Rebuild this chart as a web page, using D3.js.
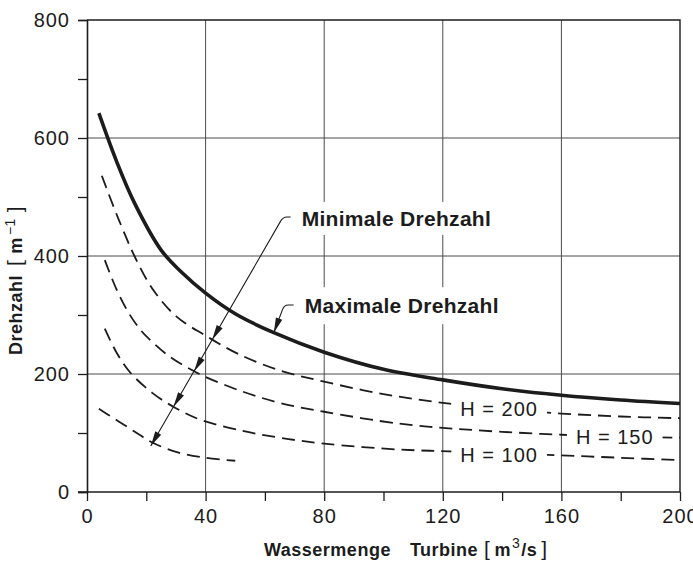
<!DOCTYPE html>
<html>
<head>
<meta charset="utf-8">
<script src="https://cdn.jsdelivr.net/npm/d3@7"></script>
<style>
  html, body { margin: 0; padding: 0; background: #fff; }
  svg { display: block; font-family: "Liberation Sans", Arial, Helvetica, sans-serif; }
</style>
</head>
<body>
<svg id="chart" width="693" height="561"></svg>
<script>
const width = 693,
  height = 561,
  margin = {top: 20, right: 12, bottom: 69, left: 87};

// Wassermenge Q [m3/s] / Drehzahl n [1/min]
const qMax = [4, 10, 16, 25, 32, 40, 50, 63, 80, 100, 120, 140, 160, 180, 200];
const nMax = [642, 560, 490, 410, 372, 337, 302, 270, 237, 208, 190, 175, 164, 156, 150];

const qH200 = [5, 9, 12, 16, 22, 30, 40, 51, 65, 80, 100, 120, 140, 160, 180, 200];
const nH200 = [536, 483, 446, 400, 345, 298, 265, 234, 206, 187, 166, 151, 141, 133, 128, 125];

const qH150 = [6, 10, 14, 18, 21, 28, 36, 40, 52, 65, 80, 105, 122, 140, 160, 180, 200];
const nH150 = [393, 343, 304, 275, 259, 229, 205, 195, 171, 151, 136, 116, 108, 102, 97, 94, 92];

const qH100 = [6, 10, 14.5, 22, 30, 38, 52, 65, 80, 105, 122, 140, 160, 180, 200];
const nH100 = [277, 236, 203, 168, 142, 123, 104, 92, 82, 72, 69, 66, 62, 58, 54];

const qH50 = [4, 9, 14, 18, 22, 30, 40, 50];
const nH50 = [141, 125, 109, 96, 84, 68, 58, 53];

const xTicks = [0, 20, 40, 60, 80, 100, 120, 140, 160, 180, 200];
const xLabels = [0, 40, 80, 120, 160, 200];
const yTicks = [0, 100, 200, 300, 400, 500, 600, 700, 800];
const yLabels = [0, 200, 400, 600, 800];

const hLabels = [
  {text: 'H = 200', q: 139, n: 141},
  {text: 'H = 150', q: 178, n: 93},
  {text: 'H = 100', q: 139, n: 62}
];

const zip = (q, n) => q.map((d, i) => [d, n[i]]);
const dashed = [zip(qH200, nH200), zip(qH150, nH150), zip(qH100, nH100), zip(qH50, nH50)];

const svg = d3.select('#chart');
const x = d3.scaleLinear().domain([0, 200]).range([margin.left, width - margin.right - 1]);
const y = d3.scaleLinear().domain([0, 800]).range([height - margin.bottom, margin.top]);

const ink = '#1c1c1c';

// grid
const grid = svg.append('g').attr('stroke', '#4a4a4a').attr('stroke-width', 1);
grid.selectAll('line.v').data([40, 80, 120, 160]).enter().append('line')
  .attr('x1', d => x(d)).attr('x2', d => x(d))
  .attr('y1', y(0)).attr('y2', y(800));
grid.selectAll('line.h').data([200, 400, 600]).enter().append('line')
  .attr('x1', x(0)).attr('x2', x(200))
  .attr('y1', d => y(d)).attr('y2', d => y(d));

// frame top / right
svg.append('path')
  .attr('d', `M${x(0)},${y(800)}H${x(200)}V${y(0)}`)
  .attr('fill', 'none').attr('stroke', ink).attr('stroke-width', 1.4);

// axes
const xAxis = svg.append('g')
  .attr('transform', `translate(0,${y(0)})`)
  .call(d3.axisBottom(x).tickValues(xTicks).tickSize(9).tickPadding(8)
    .tickFormat(d => xLabels.includes(d) ? d : ''));
const yAxis = svg.append('g')
  .attr('transform', `translate(${x(0)},0)`)
  .call(d3.axisLeft(y).tickValues(yTicks).tickSize(9).tickPadding(8)
    .tickFormat(d => yLabels.includes(d) ? d : ''));

[xAxis, yAxis].forEach(a => {
  a.select('.domain').attr('stroke', ink).attr('stroke-width', 1.6);
  a.selectAll('.tick line').attr('stroke', ink).attr('stroke-width', 1.3);
  a.selectAll('.tick text').attr('fill', ink)
    .style('font-size', '20px').style('letter-spacing', '1px')
    .style('font-family', '"Liberation Sans", Arial, sans-serif');
});
xAxis.select('.domain').attr('d', `M${x(0) - 9},0H${x(200)}`);

const line = d3.line()
  .x(d => x(d[0]))
  .y(d => y(d[1]))
  .curve(d3.curveCatmullRom.alpha(0.5));

const dashPaths = svg.append('g').selectAll('path')
  .data(dashed).enter().append('path')
  .attr('d', line)
  .attr('fill', 'none')
  .attr('stroke', ink)
  .attr('stroke-width', 1.8)
  .attr('stroke-dasharray', '13 7');

const maxPath = svg.append('path')
  .datum(zip(qMax, nMax))
  .attr('d', line)
  .attr('fill', 'none')
  .attr('stroke', ink)
  .attr('stroke-width', 3.6);

// crossing of a straight line (p0 -> p1) with a rendered curve
function crossing(node, p0, p1) {
  const side = p => (p1[0] - p0[0]) * (p.y - p0[1]) - (p1[1] - p0[1]) * (p.x - p0[0]);
  const len = node.getTotalLength();
  let sPrev = side(node.getPointAtLength(0));
  for (let l = 0.5; l <= len; l += 0.5) {
    const p = node.getPointAtLength(l), s = side(p);
    if (sPrev * s <= 0) return [p.x, p.y];
    sPrev = s;
  }
  return p1;
}

function arrowHead(g, tip, from) {
  const dx = tip[0] - from[0], dy = tip[1] - from[1];
  const k = Math.hypot(dx, dy), ux = dx / k, uy = dy / k;
  const len = 15, w = 3.4;
  const bx = tip[0] - ux * len, by = tip[1] - uy * len;
  g.append('path')
    .attr('d', `M${tip[0]},${tip[1]}L${bx - uy * w},${by + ux * w}L${bx + uy * w},${by - ux * w}Z`)
    .attr('fill', ink);
}

function leader(g, hook, knee, tip) {
  // bend the line into a short horizontal stub at the label side
  const t = (hook[1] - tip[1]) / (knee[1] - tip[1]);
  const corner = [tip[0] + (knee[0] - tip[0]) * t, hook[1]];
  const k = Math.hypot(tip[0] - corner[0], tip[1] - corner[1]);
  const after = [corner[0] + (tip[0] - corner[0]) / k * 5, corner[1] + (tip[1] - corner[1]) / k * 5];
  g.append('path')
    .attr('d', `M${hook[0]},${hook[1]}L${corner[0] + 4},${hook[1]}Q${corner[0]},${corner[1]} ${after[0]},${after[1]}L${tip[0]},${tip[1]}`)
    .attr('fill', 'none').attr('stroke', ink).attr('stroke-width', 1.1);
}

// labels with white mask under them
function maskedText(txt, px, py, opts) {
  const g = svg.append('g');
  const r = g.append('rect').attr('fill', '#fff');
  const t = g.append('text')
    .attr('x', px).attr('y', py)
    .attr('fill', ink)
    .attr('text-anchor', opts.anchor || 'start')
    .style('font-size', opts.size + 'px')
    .style('font-weight', opts.weight || 'normal')
    .style('letter-spacing', (opts.spacing || 0) + 'px')
    .text(txt);
  const b = t.node().getBBox();
  r.attr('x', b.x - opts.padX).attr('y', b.y - opts.padY)
    .attr('width', b.width + 2 * opts.padX).attr('height', b.height + 2 * opts.padY);
}

hLabels.forEach(d => {
  maskedText(d.text, x(d.q), y(d.n) + 7, {anchor: 'middle', size: 20, spacing: 1, padX: 9, padY: 2});
});

maskedText('Minimale Drehzahl', x(72.4), y(451), {size: 21, weight: 'bold', spacing: 0.3, padX: 6, padY: 5});
maskedText('Maximale Drehzahl', x(73.4), y(303), {size: 21, weight: 'bold', spacing: 0.3, padX: 6, padY: 7});

const ann = svg.append('g');

// Minimale Drehzahl: one line through all part-load curves
const minHook = [x(68.7), y(466)], minKnee = [x(65.3), y(459)], minTip = [x(21.5), y(78)];
leader(ann, minHook, minKnee, minTip);
dashPaths.each(function(d, i) {
  const tip = i === dashed.length - 1 ? minTip : crossing(this, minKnee, minTip);
  arrowHead(ann, tip, minKnee);
});

// Maximale Drehzahl
const maxHook = [x(69.7), y(317)], maxKnee = [x(66.0), y(310)];
const maxTip = crossing(maxPath.node(), maxKnee, [x(63.3), y(274)]);
leader(ann, maxHook, maxKnee, maxTip);
arrowHead(ann, maxTip, maxKnee);

// axis titles
const xt = svg.append('text')
  .attr('x', 264).attr('y', 556)
  .attr('fill', ink)
  .style('font-size', '18px').style('font-weight', 'bold').style('letter-spacing', '0.5px');
xt.append('tspan').text('Wassermenge');
xt.append('tspan').attr('dx', 19).text('Turbine');
xt.append('tspan').attr('dx', 6).style('font-weight', 'normal').style('font-size', '21px').text('[');
xt.append('tspan').attr('dx', 4).text('m');
xt.append('tspan').attr('dy', -8).attr('dx', 1).style('font-size', '14px').style('font-weight', 'normal').text('3');
xt.append('tspan').attr('dy', 8).attr('dx', 1).text('/s');
xt.append('tspan').attr('dx', 4).style('font-weight', 'normal').style('font-size', '21px').text(']');

const yt = svg.append('text')
  .attr('transform', 'translate(22,355) rotate(-90)')
  .attr('fill', ink)
  .style('font-size', '18px').style('font-weight', 'bold').style('letter-spacing', '0.5px');
yt.append('tspan').text('Drehzahl');
yt.append('tspan').attr('dx', 9).style('font-weight', 'normal').style('font-size', '21px').text('[');
yt.append('tspan').attr('dx', 6).text('m');
yt.append('tspan').attr('dy', -7).attr('dx', 2).style('font-size', '14px').style('font-weight', 'normal').text('\u22121');
yt.append('tspan').attr('dy', 7).attr('dx', 6).style('font-weight', 'normal').style('font-size', '21px').text(']');
</script>
</body>
</html>
